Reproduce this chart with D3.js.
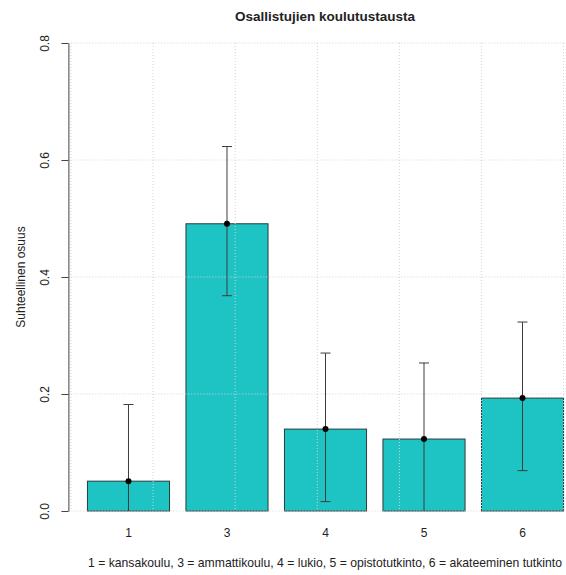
<!DOCTYPE html>
<html>
<head>
<meta charset="utf-8">
<script src="https://cdn.jsdelivr.net/npm/d3@7"></script>
<style>
  body { margin: 0; background: #fff; }
  svg text { font-family: "Liberation Sans", Arial, Helvetica, sans-serif; fill: #222; }
</style>
</head>
<body>
<div id="chart"></div>
<script>
// education levels and their shares (with confidence limits)
const categories = ['1', '3', '4', '5', '6'];
const shares = [0.051, 0.491, 0.140, 0.123, 0.193];
const lowerCI = [-0.080, 0.368, 0.016, -0.008, 0.069];
const upperCI = [0.182, 0.623, 0.270, 0.253, 0.323];
const yTicks = [0, 0.2, 0.4, 0.6, 0.8];
const gridX = [0, 1, 2, 3, 4, 5, 6];

const data = categories.map((c, i) => ({
  cat: c, value: shares[i], lo: lowerCI[i], hi: upperCI[i],
}));

const width = 566;
const height = 575;

const svg = d3.select('#chart').append('svg')
  .attr('width', width)
  .attr('height', height);

// x in barplot units, y in shares
const x = d3.scaleLinear().domain([-0.032, 6.232]).range([68.4, 582.6]);
const y = d3.scaleLinear().domain([0, 0.8]).range([511, 43]);

const xBand = d3.scaleBand()
  .domain(categories)
  .range([x(0.1), x(6.1)])
  .paddingInner(1 / 6)
  .paddingOuter(1 / 12);

svg.append('defs').append('clipPath')
  .attr('id', 'plot-clip')
  .append('rect')
  .attr('x', x.range()[0])
  .attr('y', y(0.8))
  .attr('width', x.range()[1] - x.range()[0])
  .attr('height', y(0) - y(0.8));

// bars
svg.append('g').selectAll('rect')
  .data(data)
  .join('rect')
  .attr('x', (d) => xBand(d.cat))
  .attr('y', (d) => y(d.value))
  .attr('width', xBand.bandwidth())
  .attr('height', (d) => y(0) - y(d.value))
  .attr('fill', '#1ec4c4')
  .attr('stroke', '#2b3b3b')
  .attr('stroke-width', 1);

// dotted grid drawn over the bars
const grid = svg.append('g')
  .attr('stroke', '#d3d3d3')
  .attr('stroke-width', 1)
  .attr('stroke-dasharray', '1,2');

grid.selectAll('.gx')
  .data(gridX)
  .join('line')
  .attr('x1', (d) => x(d))
  .attr('x2', (d) => x(d))
  .attr('y1', y(0.8))
  .attr('y2', y(0));

grid.selectAll('.gy')
  .data(yTicks)
  .join('line')
  .attr('x1', x.range()[0])
  .attr('x2', width)
  .attr('y1', (d) => y(d))
  .attr('y2', (d) => y(d));

// error bars
const err = svg.append('g')
  .attr('clip-path', 'url(#plot-clip)')
  .attr('stroke', '#3c3c3c')
  .attr('stroke-width', 1);

const cx = (d) => xBand(d.cat) + xBand.bandwidth() / 2;

err.selectAll('.stem')
  .data(data)
  .join('line')
  .attr('x1', cx)
  .attr('x2', cx)
  .attr('y1', (d) => y(d.lo))
  .attr('y2', (d) => y(d.hi));

err.selectAll('.cap-hi')
  .data(data)
  .join('line')
  .attr('x1', (d) => cx(d) - 5)
  .attr('x2', (d) => cx(d) + 5)
  .attr('y1', (d) => y(d.hi))
  .attr('y2', (d) => y(d.hi));

err.selectAll('.cap-lo')
  .data(data)
  .join('line')
  .attr('x1', (d) => cx(d) - 5)
  .attr('x2', (d) => cx(d) + 5)
  .attr('y1', (d) => y(d.lo))
  .attr('y2', (d) => y(d.lo));

svg.append('g').selectAll('circle')
  .data(data)
  .join('circle')
  .attr('cx', cx)
  .attr('cy', (d) => y(d.value))
  .attr('r', 3)
  .attr('fill', '#000');

// y axis
const yAxis = d3.axisLeft(y)
  .tickValues(yTicks)
  .tickFormat(d3.format('.1f'))
  .tickSize(7)
  .tickSizeOuter(0);

const yAxisG = svg.append('g')
  .attr('transform', `translate(${x.range()[0]},0)`)
  .call(yAxis);

yAxisG.select('.domain').attr('stroke', '#444');
yAxisG.selectAll('.tick line').attr('stroke', '#444');
yAxisG.selectAll('.tick text')
  .attr('x', null)
  .attr('dy', null)
  .attr('transform', 'translate(-19,0) rotate(-90)')
  .attr('text-anchor', 'middle')
  .attr('font-size', 12)
  .attr('fill', '#222');

// category labels
svg.append('g').selectAll('text')
  .data(categories)
  .join('text')
  .attr('x', (d) => xBand(d) + xBand.bandwidth() / 2)
  .attr('y', 537)
  .attr('text-anchor', 'middle')
  .attr('font-size', 12)
  .text((d) => d);

// titles
svg.append('text')
  .attr('x', 325)
  .attr('y', 21)
  .attr('text-anchor', 'middle')
  .attr('font-size', 13.5)
  .attr('font-weight', 'bold')
  .text('Osallistujien koulutustausta');

svg.append('text')
  .attr('transform', `translate(25,${y(0.4)}) rotate(-90)`)
  .attr('text-anchor', 'middle')
  .attr('font-size', 12)
  .text('Suhteellinen osuus');

svg.append('text')
  .attr('x', 325)
  .attr('y', 567)
  .attr('text-anchor', 'middle')
  .attr('font-size', 12.2)
  .text('1 = kansakoulu, 3 = ammattikoulu, 4 = lukio, 5 = opistotutkinto, 6 = akateeminen tutkinto');
</script>
</body>
</html>
